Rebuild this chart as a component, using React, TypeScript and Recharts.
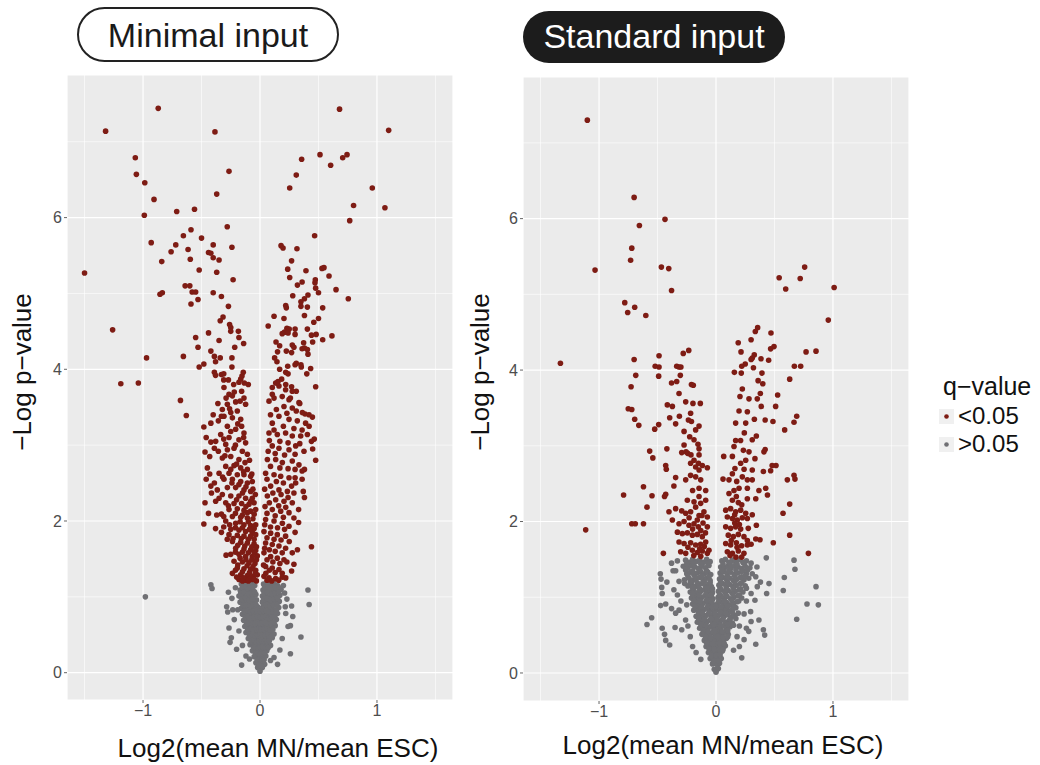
import {
  ScatterChart,
  Scatter,
  XAxis,
  YAxis,
  CartesianGrid,
  ReferenceLine,
} from "recharts";

type Pt = [number, number];

const FONT = '"Liberation Sans", Arial, Helvetica, sans-serif';
const RED = "#7e1c14";
const GRAY = "#707074";

const xTicks = [-1, 0, 1];
const yTicks = [0, 2, 4, 6];
const xMinor = [-1.5, -0.5, 0.5, 1.5];
const yMinor = [1, 3, 5, 7];

// ---- Minimal input ----
const minimalRedTop: Pt[] = [
  [-0.87, 7.44], [-1.32, 7.14], [-0.385, 7.13], [0.68, 7.43], [1.1, 7.15],
  [-1.066, 6.79], [-1.057, 6.57], [-0.985, 6.46], [-0.906, 6.24], [-0.989, 6.03],
  [-0.265, 6.61], [-0.37, 6.31], [-0.712, 6.08], [-0.56, 6.11],
  [0.356, 6.77], [0.31, 6.56], [0.254, 6.39], [0.513, 6.83], [0.604, 6.69],
  [0.707, 6.79], [0.744, 6.83], [0.96, 6.39], [0.8, 6.16], [1.068, 6.13], [0.767, 5.96],
  [-1.5, 5.27], [-0.93, 5.67], [-0.84, 5.42], [-0.76, 5.55], [-0.72, 5.64],
  [-0.655, 5.76], [-0.59, 5.84], [-0.615, 5.58], [-0.596, 5.45], [-0.5, 5.73],
  [-0.4, 5.64], [-0.44, 5.54], [-0.42, 5.53], [-0.4, 5.47], [-0.35, 5.44],
  [-0.52, 5.31], [-0.37, 5.28], [-0.28, 5.88], [-0.24, 5.61], [-0.23, 5.18],
  [-0.855, 4.99], [-0.835, 5.01], [-0.64, 5.1], [-0.6, 5.1], [-0.58, 5.02],
  [-0.55, 5.02], [-0.53, 4.92], [-0.59, 4.86], [-0.4, 5.01], [-0.33, 4.96],
  [-0.27, 4.83], [-0.316, 4.69], [-0.34, 4.64], [-0.26, 4.59], [-0.25, 4.55],
  [-0.25, 4.5], [-0.185, 4.5], [-0.18, 4.42], [-0.14, 4.34], [-0.216, 4.29],
  [-0.35, 4.38], [-0.44, 4.48], [-0.55, 4.42], [-0.53, 4.29], [-0.42, 4.24],
  [-0.39, 4.17], [-0.34, 4.15], [-0.38, 4.1], [-0.24, 4.15], [-0.24, 4.03],
  [-0.48, 4.07], [-0.52, 4.03], [-0.655, 4.17], [-1.26, 4.52], [-0.97, 4.15],
  [-1.19, 3.81], [-1.04, 3.82],
  [-0.39, 3.96], [-0.38, 3.92], [-0.33, 3.93], [-0.31, 3.94], [-0.31, 3.86],
  [-0.27, 3.86], [-0.225, 3.8], [-0.165, 3.87], [-0.143, 3.96], [-0.154, 3.91], [-0.1, 3.8],
  [0.467, 5.76], [0.18, 5.63], [0.197, 5.6], [0.316, 5.59], [0.27, 5.43],
  [0.237, 5.32], [0.393, 5.3], [0.254, 5.21], [0.53, 5.33], [0.547, 5.34],
  [0.59, 5.23], [0.473, 5.18], [0.47, 5.14], [0.476, 5.07], [0.36, 5.15],
  [0.32, 5.11], [0.5, 5.01], [0.65, 5.05], [0.755, 4.93], [0.41, 4.98],
  [0.38, 4.93], [0.35, 4.89], [0.28, 4.97], [0.22, 4.84], [0.225, 4.81],
  [0.35, 4.83], [0.405, 4.82], [0.536, 4.81], [0.38, 4.71], [0.12, 4.7],
  [0.205, 4.67], [0.5, 4.67], [0.46, 4.62], [0.07, 4.57], [0.23, 4.54],
  [0.25, 4.53], [0.3, 4.53], [0.21, 4.49], [0.19, 4.47], [0.24, 4.48],
  [0.405, 4.53], [0.3, 4.46], [0.44, 4.45], [0.48, 4.46], [0.615, 4.44],
  [0.536, 4.39], [0.137, 4.36], [0.168, 4.31], [0.276, 4.32], [0.29, 4.29],
  [0.373, 4.35], [0.38, 4.28], [0.45, 4.36], [0.15, 4.23], [0.225, 4.24],
  [0.27, 4.22], [0.405, 4.26], [0.41, 4.2], [0.36, 4.27], [0.125, 4.15],
  [0.145, 4.1], [0.237, 4.04], [0.3, 4.06], [0.31, 4.08], [0.353, 4.03],
  [0.35, 4.06], [0.433, 4.01], [0.4, 3.94], [0.476, 3.77], [0.168, 4.0],
  [0.22, 3.96], [0.24, 3.94], [0.105, 3.76], [0.134, 3.82], [0.154, 3.84],
  [0.185, 3.87], [0.22, 3.8], [0.27, 3.77],
];

const minimalRedNeg: Pt[] = [
  [-0.68, 3.59], [-0.63, 3.39], [-0.48, 3.24], [-0.47, 2.91], [-0.46, 2.55],
  [-0.47, 2.24], [-0.48, 1.96], [-0.38, 1.9], [-0.31, 1.92], [-0.33, 2.09],
  [-0.415, 2.37], [-0.42, 3.04],
  [-0.308, 3.76], [-0.265, 3.67], [-0.236, 3.65], [-0.18, 3.83], [-0.157, 3.71],
  [-0.137, 3.62], [-0.123, 3.54], [-0.279, 3.54], [-0.322, 3.47], [-0.25, 3.43],
  [-0.194, 3.45], [-0.134, 3.82], [-0.208, 3.57],
  [-0.42, 3.29], [-0.356, 3.32], [-0.308, 3.38], [-0.236, 3.36], [-0.165, 3.34],
  [-0.157, 3.25], [-0.137, 3.16], [-0.208, 3.21], [-0.279, 3.25], [-0.336, 3.14],
  [-0.265, 3.1], [-0.18, 3.07], [-0.123, 3.03], [-0.379, 3.05], [-0.293, 3.01],
  [-0.356, 2.92], [-0.279, 2.94], [-0.222, 2.96], [-0.151, 2.92], [-0.108, 2.88],
  [-0.322, 2.83], [-0.25, 2.85], [-0.18, 2.81], [-0.128, 2.77], [-0.293, 2.72],
  [-0.222, 2.73], [-0.165, 2.7], [-0.108, 2.68], [-0.35, 2.63], [-0.265, 2.63],
  [-0.194, 2.61], [-0.137, 2.61], [-0.08, 2.59], [-0.43, 2.85], [-0.45, 2.7],
  [-0.308, 2.55], [-0.236, 2.55], [-0.165, 2.52], [-0.108, 2.5], [-0.066, 2.52],
  [-0.279, 2.44], [-0.208, 2.44], [-0.137, 2.41], [-0.08, 2.39], [-0.322, 2.35],
  [-0.25, 2.33], [-0.18, 2.33], [-0.123, 2.3], [-0.066, 2.3], [-0.379, 2.26],
  [-0.293, 2.24], [-0.222, 2.23], [-0.157, 2.23], [-0.094, 2.22], [-0.051, 2.24],
  [-0.42, 2.46], [-0.365, 2.41],
  [-0.265, 2.15], [-0.194, 2.16], [-0.137, 2.14], [-0.08, 2.13], [-0.037, 2.15],
  [-0.236, 2.06], [-0.165, 2.05], [-0.108, 2.04], [-0.06, 2.03], [-0.293, 2.0],
  [-0.208, 1.97], [-0.137, 1.95], [-0.08, 1.94], [-0.037, 1.95], [-0.25, 1.89],
  [-0.18, 1.88], [-0.123, 1.86], [-0.066, 1.85], [-0.265, 1.82], [-0.194, 1.81],
  [-0.137, 1.8], [-0.08, 1.8], [-0.037, 1.82], [-0.108, 2.11],
  [-0.236, 1.73], [-0.165, 1.72], [-0.108, 1.71], [-0.051, 1.7], [-0.208, 1.64],
  [-0.137, 1.63], [-0.08, 1.62], [-0.037, 1.61], [-0.25, 1.56], [-0.18, 1.56],
  [-0.123, 1.53], [-0.066, 1.53], [-0.023, 1.54], [-0.222, 1.47], [-0.151, 1.46],
  [-0.094, 1.45], [-0.043, 1.44], [-0.194, 1.38], [-0.137, 1.37], [-0.08, 1.36],
  [-0.037, 1.35], [-0.236, 1.31], [-0.165, 1.29], [-0.108, 1.28], [-0.06, 1.27],
  [-0.023, 1.29], [-0.18, 1.23], [-0.123, 1.22], [-0.071, 1.23], [-0.031, 1.21],
  [-0.29, 3.62], [-0.22, 3.7], [-0.17, 3.58], [-0.26, 3.48], [-0.33, 3.38],
  [-0.19, 3.28], [-0.25, 3.18], [-0.31, 3.08], [-0.14, 3.1], [-0.21, 3.0],
  [-0.39, 2.96], [-0.3, 2.86], [-0.2, 2.75], [-0.09, 2.8], [-0.25, 2.68],
  [-0.14, 2.65], [-0.32, 2.58], [-0.07, 2.62], [-0.18, 2.48], [-0.24, 2.5],
  [-0.12, 2.45], [-0.06, 2.42], [-0.35, 2.3], [-0.2, 2.28], [-0.15, 2.37],
  [-0.04, 2.35], [-0.27, 2.2], [-0.12, 2.19], [-0.08, 2.26], [-0.21, 2.1],
  [-0.15, 2.08], [-0.05, 2.09], [-0.31, 2.06], [-0.1, 1.99], [-0.17, 1.99],
  [-0.26, 1.95], [-0.05, 1.9], [-0.21, 1.91], [-0.15, 1.91], [-0.09, 1.89],
  [-0.23, 1.77], [-0.16, 1.77], [-0.1, 1.76], [-0.05, 1.76], [-0.19, 1.68],
  [-0.13, 1.67], [-0.07, 1.66], [-0.03, 1.66], [-0.21, 1.59], [-0.15, 1.59],
  [-0.1, 1.58], [-0.05, 1.58], [-0.17, 1.51], [-0.12, 1.49], [-0.07, 1.49],
  [-0.03, 1.49], [-0.19, 1.42], [-0.11, 1.41], [-0.06, 1.4], [-0.21, 1.35],
  [-0.15, 1.33], [-0.09, 1.32], [-0.04, 1.31], [-0.2, 1.26], [-0.14, 1.25],
  [-0.08, 1.25], [-0.05, 1.23], [-0.15, 1.21], [-0.1, 1.21],
  [-0.36, 3.55], [-0.4, 3.4], [-0.46, 3.1], [-0.43, 2.62], [-0.39, 2.5],
  [-0.44, 2.1], [-0.37, 2.08], [-0.33, 1.85], [-0.29, 1.55], [-0.28, 1.76],
];

const minimalRedPos: Pt[] = [
  [0.464, 3.08], [0.476, 2.8], [0.44, 1.66], [0.33, 1.98], [0.38, 2.31],
  [0.29, 1.43], [0.27, 1.34], [0.31, 3.71], [0.34, 3.55], [0.385, 3.41],
  [0.448, 3.37], [0.38, 2.68], [0.36, 2.66], [0.3, 2.57], [0.37, 2.39],
  [0.077, 3.58], [0.105, 3.67], [0.162, 3.78], [0.219, 3.73], [0.276, 3.71],
  [0.333, 3.56], [0.248, 3.6], [0.148, 3.82], [0.205, 3.51], [0.276, 3.49],
  [0.362, 3.43], [0.419, 3.4], [0.162, 3.38], [0.248, 3.34], [0.319, 3.32],
  [0.39, 3.29], [0.105, 3.29], [0.077, 3.16], [0.148, 3.14], [0.219, 3.16],
  [0.276, 3.12], [0.348, 3.12], [0.405, 3.14], [0.105, 2.99], [0.162, 2.96],
  [0.248, 2.94], [0.305, 2.99], [0.376, 2.92], [0.063, 2.81], [0.134, 2.81],
  [0.191, 2.77], [0.276, 2.79], [0.333, 2.74], [0.048, 2.63], [0.12, 2.61],
  [0.177, 2.59], [0.248, 2.57], [0.305, 2.5], [0.091, 2.46], [0.162, 2.41],
  [0.234, 2.39], [0.29, 2.37], [0.063, 2.33], [0.134, 2.28], [0.205, 2.26],
  [0.276, 2.24], [0.043, 2.19], [0.105, 2.15], [0.177, 2.13], [0.248, 2.11],
  [0.048, 2.02], [0.12, 2.0], [0.191, 1.97], [0.248, 1.93], [0.034, 1.86],
  [0.091, 1.84], [0.148, 1.82], [0.219, 1.8], [0.048, 1.71], [0.105, 1.69],
  [0.162, 1.67], [0.219, 1.64], [0.276, 1.58], [0.034, 1.58], [0.091, 1.53],
  [0.148, 1.51], [0.205, 1.49], [0.048, 1.4], [0.105, 1.38], [0.162, 1.36],
  [0.034, 1.27], [0.077, 1.25], [0.134, 1.24], [0.191, 1.26],
  [0.12, 3.62], [0.19, 3.64], [0.26, 3.62], [0.14, 3.47], [0.23, 3.42],
  [0.31, 3.45], [0.09, 3.4], [0.2, 3.25], [0.29, 3.22], [0.12, 3.2],
  [0.36, 3.2], [0.17, 3.05], [0.24, 3.03], [0.08, 3.06], [0.34, 3.02],
  [0.44, 3.05], [0.13, 2.89], [0.21, 2.87], [0.3, 2.88], [0.07, 2.92],
  [0.17, 2.7], [0.24, 2.69], [0.09, 2.72], [0.3, 2.68], [0.14, 2.52],
  [0.2, 2.5], [0.06, 2.55], [0.27, 2.46], [0.11, 2.37], [0.18, 2.35],
  [0.04, 2.42], [0.24, 2.31], [0.08, 2.24], [0.16, 2.2], [0.22, 2.18],
  [0.06, 2.1], [0.13, 2.07], [0.2, 2.05], [0.29, 2.04], [0.04, 1.95],
  [0.09, 1.92], [0.15, 1.91], [0.21, 1.89], [0.06, 1.78], [0.12, 1.76],
  [0.18, 1.75], [0.25, 1.73], [0.04, 1.64], [0.08, 1.62], [0.13, 1.6],
  [0.19, 1.58], [0.06, 1.49], [0.11, 1.46], [0.17, 1.44], [0.23, 1.46],
  [0.03, 1.42], [0.08, 1.35], [0.13, 1.32], [0.19, 1.31], [0.05, 1.31],
  [0.1, 1.21], [0.06, 1.22], [0.16, 1.22], [0.22, 1.25],
  [0.42, 3.25], [0.45, 2.95], [0.36, 2.55], [0.33, 2.15], [0.3, 1.85], [0.32, 1.62],
];

const minimalGray: Pt[] = [
  [-0.16, 1.17], [-0.13, 1.19], [-0.1, 1.16], [-0.07, 1.18], [-0.045, 1.15],
  [0.03, 1.17], [0.06, 1.19], [0.09, 1.16], [0.12, 1.18], [0.15, 1.15],
  [-0.17, 1.09], [-0.14, 1.11], [-0.11, 1.08], [-0.08, 1.1], [-0.05, 1.07],
  [0.025, 1.09], [0.055, 1.11], [0.085, 1.08], [0.115, 1.1], [0.15, 1.07], [0.18, 1.1],
  [-0.18, 1.01], [-0.15, 1.03], [-0.12, 1.0], [-0.09, 1.02], [-0.06, 0.99], [-0.035, 1.03],
  [0.02, 1.01], [0.05, 1.03], [0.08, 1.0], [0.11, 1.02], [0.14, 0.99], [0.17, 1.02],
  [-0.17, 0.93], [-0.14, 0.95], [-0.11, 0.92], [-0.08, 0.94], [-0.05, 0.91], [-0.03, 0.96],
  [0.02, 0.93], [0.045, 0.95], [0.075, 0.92], [0.105, 0.94], [0.135, 0.91], [0.165, 0.94],
  [-0.16, 0.85], [-0.13, 0.87], [-0.1, 0.84], [-0.07, 0.86], [-0.045, 0.83], [-0.02, 0.87],
  [0.015, 0.85], [0.04, 0.87], [0.07, 0.84], [0.1, 0.86], [0.13, 0.83], [0.16, 0.86],
  [-0.15, 0.77], [-0.12, 0.79], [-0.09, 0.76], [-0.065, 0.78], [-0.04, 0.75], [-0.015, 0.79],
  [0.015, 0.77], [0.04, 0.79], [0.065, 0.76], [0.095, 0.78], [0.125, 0.75], [0.15, 0.78],
  [-0.14, 0.69], [-0.11, 0.71], [-0.085, 0.68], [-0.06, 0.7], [-0.035, 0.67], [-0.012, 0.71],
  [0.012, 0.69], [0.035, 0.71], [0.06, 0.68], [0.085, 0.7], [0.11, 0.67], [0.14, 0.7],
  [-0.13, 0.61], [-0.1, 0.63], [-0.075, 0.6], [-0.05, 0.62], [-0.028, 0.59], [-0.008, 0.63],
  [0.01, 0.61], [0.03, 0.63], [0.055, 0.6], [0.08, 0.62], [0.105, 0.59], [0.13, 0.62],
  [-0.12, 0.53], [-0.09, 0.55], [-0.065, 0.52], [-0.042, 0.54], [-0.02, 0.51], [0.0, 0.55],
  [0.02, 0.53], [0.045, 0.55], [0.07, 0.52], [0.095, 0.54], [0.12, 0.51],
  [-0.1, 0.45], [-0.075, 0.47], [-0.05, 0.44], [-0.03, 0.46], [-0.01, 0.43],
  [0.01, 0.47], [0.03, 0.45], [0.055, 0.47], [0.08, 0.44], [0.105, 0.46],
  [-0.085, 0.37], [-0.06, 0.39], [-0.038, 0.36], [-0.018, 0.38], [0.003, 0.35],
  [0.022, 0.39], [0.045, 0.37], [0.068, 0.39], [0.09, 0.36],
  [-0.065, 0.29], [-0.045, 0.31], [-0.025, 0.28], [-0.005, 0.3], [0.015, 0.27],
  [0.035, 0.31], [0.058, 0.29],
  [-0.05, 0.21], [-0.03, 0.23], [-0.01, 0.2], [0.01, 0.22], [0.03, 0.19], [0.05, 0.22],
  [-0.035, 0.13], [-0.015, 0.15], [0.005, 0.12], [0.025, 0.14], [0.04, 0.11],
  [-0.02, 0.07], [0.0, 0.05], [0.02, 0.07], [0.0, 0.02],
  // fill between rows
  [-0.15, 1.13], [-0.12, 1.14], [-0.09, 1.12], [-0.06, 1.13], [0.04, 1.13],
  [0.07, 1.14], [0.1, 1.12], [0.13, 1.13], [0.165, 1.12],
  [-0.165, 1.05], [-0.135, 1.06], [-0.1, 1.04], [-0.07, 1.05], [-0.045, 1.06],
  [0.035, 1.05], [0.065, 1.06], [0.1, 1.04], [0.13, 1.05], [0.16, 1.06],
  [-0.155, 0.97], [-0.125, 0.98], [-0.095, 0.96], [-0.065, 0.97], [0.03, 0.97],
  [0.06, 0.98], [0.09, 0.96], [0.12, 0.97], [0.15, 0.98],
  [-0.145, 0.89], [-0.115, 0.9], [-0.085, 0.88], [-0.06, 0.89], [-0.035, 0.9],
  [0.03, 0.89], [0.055, 0.9], [0.085, 0.88], [0.115, 0.89], [0.145, 0.9],
  [-0.135, 0.81], [-0.105, 0.82], [-0.08, 0.8], [-0.055, 0.81], [-0.03, 0.82],
  [0.0, 0.81], [0.03, 0.81], [0.055, 0.82], [0.08, 0.8], [0.11, 0.81], [0.14, 0.82],
  [-0.125, 0.73], [-0.1, 0.74], [-0.075, 0.72], [-0.05, 0.73], [-0.025, 0.74],
  [0.0, 0.73], [0.025, 0.73], [0.05, 0.74], [0.075, 0.72], [0.1, 0.73], [0.125, 0.74],
  [-0.115, 0.65], [-0.09, 0.66], [-0.065, 0.64], [-0.04, 0.65], [-0.018, 0.66],
  [0.0, 0.65], [0.02, 0.65], [0.045, 0.66], [0.07, 0.64], [0.095, 0.65], [0.12, 0.66],
  [-0.105, 0.57], [-0.08, 0.58], [-0.055, 0.56], [-0.03, 0.57], [-0.01, 0.58],
  [0.01, 0.57], [0.035, 0.57], [0.06, 0.58], [0.085, 0.56], [0.11, 0.57],
  [-0.09, 0.49], [-0.065, 0.5], [-0.04, 0.48], [-0.02, 0.49], [0.0, 0.5],
  [0.02, 0.49], [0.045, 0.49], [0.07, 0.5], [0.095, 0.48],
  [-0.075, 0.41], [-0.05, 0.42], [-0.028, 0.4], [-0.008, 0.41], [0.012, 0.42],
  [0.035, 0.41], [0.058, 0.41], [0.08, 0.42],
  [-0.055, 0.33], [-0.035, 0.34], [-0.015, 0.32], [0.005, 0.33], [0.025, 0.34],
  [0.048, 0.33], [0.07, 0.33],
  [-0.04, 0.25], [-0.02, 0.26], [0.0, 0.24], [0.02, 0.25], [0.04, 0.26],
  [-0.025, 0.17], [-0.005, 0.18], [0.015, 0.17], [0.035, 0.17], [-0.01, 0.1], [0.01, 0.09],
  // scattered
  [-0.98, 1.0], [-0.42, 1.16], [-0.41, 1.11], [0.41, 1.09], [0.42, 0.9],
  [0.35, 0.47], [0.26, 0.25], [-0.157, 0.1], [0.15, 0.11], [0.216, 0.87],
  [0.27, 0.88], [0.24, 0.61], [0.26, 0.62], [0.28, 0.74], [-0.285, 0.87],
  [-0.276, 0.8], [-0.265, 0.59], [-0.245, 0.46], [-0.256, 0.4], [-0.2, 0.31],
  [-0.233, 0.83], [-0.19, 0.83], [-0.27, 1.06], [0.21, 1.05], [0.23, 0.97],
  [-0.22, 0.7], [-0.18, 0.55], [-0.15, 0.36], [-0.12, 0.22], [0.19, 0.45],
  [0.17, 0.3], [0.12, 0.2], [0.2, 1.15], [-0.21, 1.12], [-0.24, 0.98],
  [0.22, 0.78], [0.09, 0.16], [-0.09, 0.18],
];

// ---- Standard input ----
const standardRedTop: Pt[] = [
  [-1.1, 7.3], [-0.7, 6.28], [-0.436, 5.99], [-0.655, 5.91], [-0.72, 5.61],
  [-0.73, 5.45], [-1.034, 5.32], [-0.467, 5.36], [-0.404, 5.34], [-0.38, 5.05],
  [-0.78, 4.89], [-0.755, 4.76], [-0.695, 4.83], [-0.6, 4.72], [-1.33, 4.09],
  [-0.7, 4.14], [-0.686, 3.93], [-0.726, 3.78], [-0.487, 4.19], [-0.52, 4.05],
  [-0.487, 4.04], [-0.49, 3.92], [-0.38, 3.83], [-0.336, 3.85], [-0.336, 4.05],
  [-0.316, 4.04], [-0.3, 4.04], [-0.305, 3.93], [-0.28, 4.22], [-0.233, 4.26],
  [-0.21, 3.81], [-0.194, 3.8],
  [0.54, 5.22], [0.596, 5.07], [0.72, 5.21], [0.758, 5.36], [1.01, 5.09],
  [0.96, 4.66], [0.19, 4.36], [0.356, 4.56], [0.336, 4.51], [0.3, 4.4],
  [0.47, 4.49], [0.496, 4.31], [0.467, 4.28], [0.214, 4.24], [0.327, 4.2],
  [0.31, 4.16], [0.3, 4.14], [0.385, 4.15], [0.45, 4.13], [0.25, 4.08],
  [0.22, 4.05], [0.32, 4.03], [0.157, 3.97], [0.216, 3.96], [0.393, 3.96],
  [0.36, 3.86], [0.4, 3.82], [0.225, 3.75], [0.63, 3.88], [0.67, 4.05],
  [0.724, 4.05], [0.77, 4.24], [0.855, 4.25],
];

const standardRedNeg: Pt[] = [
  [-1.114, 1.89], [-0.79, 2.35], [-0.75, 3.49], [-0.72, 3.48], [-0.695, 3.35],
  [-0.66, 3.27], [-0.72, 1.97], [-0.69, 1.97], [-0.62, 1.97], [-0.62, 2.46],
  [-0.547, 2.34], [-0.59, 2.19], [-0.567, 2.93], [-0.54, 2.84], [-0.524, 3.22],
  [-0.49, 3.28], [-0.45, 1.58], [-0.44, 2.33], [-0.43, 2.36], [-0.43, 2.74],
  [-0.425, 2.69], [-0.42, 2.96], [-0.416, 3.54], [-0.373, 3.52], [-0.396, 3.37],
  [-0.313, 3.39], [-0.345, 3.29], [-0.293, 2.91], [-0.256, 2.92], [-0.242, 2.9],
  [-0.214, 2.88], [-0.345, 2.58], [-0.36, 2.47], [-0.273, 3.19], [-0.225, 3.12],
  [-0.236, 3.34], [-0.21, 3.32], [-0.197, 3.56], [-0.134, 3.56], [-0.145, 3.26],
  [-0.188, 3.08], [-0.154, 3.02], [-0.145, 2.96], [-0.074, 2.71], [-0.217, 2.77],
  [-0.15, 2.77], [-0.145, 2.68], [-0.131, 2.55], [-0.2, 2.41], [-0.145, 2.44],
  [-0.088, 2.41],
  [-0.402, 2.13], [-0.345, 2.17], [-0.293, 2.14], [-0.259, 2.11], [-0.217, 2.13],
  [-0.174, 2.19], [-0.145, 2.08], [-0.103, 2.13], [-0.074, 2.06], [-0.373, 2.02],
  [-0.316, 1.97], [-0.273, 2.0], [-0.231, 1.95], [-0.188, 1.97], [-0.151, 1.93],
  [-0.111, 1.98], [-0.074, 1.93], [-0.33, 1.86], [-0.288, 1.84], [-0.245, 1.85],
  [-0.202, 1.82], [-0.16, 1.83], [-0.117, 1.8], [-0.316, 1.73], [-0.273, 1.71],
  [-0.217, 1.72], [-0.174, 1.69], [-0.131, 1.7], [-0.088, 1.73], [-0.302, 1.6],
  [-0.259, 1.58], [-0.202, 1.62], [-0.16, 1.59], [-0.117, 1.61], [-0.074, 1.58],
  [-0.145, 2.33], [-0.188, 2.26], [-0.245, 2.28], [-0.131, 2.24], [-0.088, 2.28],
  [-0.259, 2.55], [-0.174, 2.59], [-0.217, 2.61], [-0.174, 2.72], [-0.117, 2.74],
  [-0.188, 2.81], [-0.145, 2.88], [-0.273, 3.01], [-0.174, 3.21], [-0.217, 3.43],
  [-0.259, 3.58], [-0.316, 3.69],
  [-0.2, 1.9], [-0.13, 1.88], [-0.09, 1.85], [-0.24, 1.66], [-0.14, 1.64],
  [-0.1, 1.67], [-0.06, 1.62], [-0.19, 1.55], [-0.13, 1.54], [-0.23, 2.05],
  [-0.16, 2.02], [-0.12, 2.08],
];

const standardRedPos: Pt[] = [
  [0.205, 3.65], [0.282, 3.62], [0.353, 3.62], [0.379, 3.69], [0.527, 3.67],
  [0.51, 3.52], [0.387, 3.52], [0.197, 3.46], [0.268, 3.45], [0.168, 3.3],
  [0.254, 3.3], [0.328, 3.35], [0.42, 3.34], [0.487, 3.32], [0.587, 3.21],
  [0.667, 3.31], [0.69, 3.39], [0.242, 3.17], [0.21, 3.07], [0.31, 3.08],
  [0.345, 3.13], [0.154, 2.99], [0.234, 2.94], [0.282, 2.92], [0.42, 2.95],
  [0.41, 2.92], [0.066, 2.86], [0.14, 2.86], [0.333, 2.83], [0.48, 2.74],
  [0.513, 2.74], [0.467, 2.67], [0.405, 2.66], [0.24, 2.69], [0.31, 2.68],
  [0.162, 2.7], [0.61, 2.55], [0.667, 2.61], [0.675, 2.56], [0.06, 2.56],
  [0.177, 2.53], [0.197, 2.44], [0.268, 2.44], [0.367, 2.41], [0.425, 2.44],
  [0.44, 2.35], [0.34, 2.3], [0.268, 2.3], [0.63, 2.23], [0.573, 2.11],
  [0.31, 2.09], [0.268, 2.04], [0.276, 1.91], [0.345, 1.95], [0.63, 1.82],
  [0.49, 1.72], [0.79, 1.58], [0.34, 1.77], [0.376, 1.76], [0.268, 1.75], [0.3, 1.7],
  [0.083, 2.15], [0.125, 2.17], [0.168, 2.13], [0.211, 2.15], [0.254, 2.11],
  [0.097, 2.06], [0.14, 2.04], [0.182, 2.02], [0.225, 2.05], [0.083, 1.93],
  [0.125, 1.91], [0.168, 1.93], [0.211, 1.9], [0.105, 1.82], [0.148, 1.8],
  [0.191, 1.83], [0.239, 1.8], [0.083, 1.71], [0.125, 1.69], [0.174, 1.72],
  [0.219, 1.68], [0.268, 1.69], [0.097, 1.6], [0.14, 1.58], [0.191, 1.61],
  [0.239, 1.58], [0.111, 2.37], [0.154, 2.41], [0.174, 2.33], [0.14, 2.28],
  [0.191, 2.25], [0.111, 2.55], [0.14, 2.63], [0.225, 2.59], [0.268, 2.55],
  [0.31, 2.55], [0.211, 2.77], [0.254, 2.81], [0.168, 3.07],
  [0.16, 1.98], [0.2, 1.96], [0.13, 1.75], [0.18, 1.66], [0.12, 1.55],
  [0.17, 1.53], [0.22, 1.53], [0.16, 2.09], [0.22, 2.22],
];

const standardGray: Pt[] = [
  [-0.26, 1.49], [-0.23, 1.46], [-0.2, 1.5], [-0.17, 1.47], [-0.14, 1.49], [-0.11, 1.46],
  [-0.08, 1.5], [-0.05, 1.47], [0.05, 1.48], [0.08, 1.5], [0.11, 1.46], [0.14, 1.49],
  [0.17, 1.47], [0.2, 1.5], [0.23, 1.46], [0.26, 1.48],
  [-0.28, 1.41], [-0.24, 1.39], [-0.21, 1.42], [-0.18, 1.4], [-0.15, 1.38], [-0.12, 1.41],
  [-0.09, 1.39], [-0.06, 1.42], [0.04, 1.4], [0.07, 1.38], [0.1, 1.41], [0.13, 1.39],
  [0.16, 1.42], [0.19, 1.4], [0.22, 1.38], [0.25, 1.41], [0.29, 1.39],
  [-0.25, 1.31], [-0.22, 1.33], [-0.19, 1.3], [-0.16, 1.32], [-0.13, 1.34], [-0.1, 1.31],
  [-0.07, 1.33], [-0.045, 1.3], [0.035, 1.32], [0.065, 1.34], [0.095, 1.31], [0.125, 1.33],
  [0.155, 1.3], [0.185, 1.32], [0.22, 1.34], [0.26, 1.31],
  [-0.27, 1.23], [-0.23, 1.25], [-0.2, 1.22], [-0.17, 1.24], [-0.14, 1.26], [-0.11, 1.23],
  [-0.08, 1.25], [-0.05, 1.22], [0.03, 1.24], [0.06, 1.26], [0.09, 1.23], [0.12, 1.25],
  [0.15, 1.22], [0.18, 1.24], [0.21, 1.26], [0.24, 1.23], [0.28, 1.25],
  [-0.24, 1.15], [-0.21, 1.17], [-0.18, 1.14], [-0.15, 1.16], [-0.12, 1.18], [-0.09, 1.15],
  [-0.06, 1.17], [-0.04, 1.14], [0.025, 1.16], [0.055, 1.18], [0.085, 1.15], [0.115, 1.17],
  [0.145, 1.14], [0.175, 1.16], [0.21, 1.18], [0.25, 1.15],
  [-0.22, 1.07], [-0.19, 1.09], [-0.16, 1.06], [-0.13, 1.08], [-0.1, 1.1], [-0.075, 1.07],
  [-0.05, 1.09], [-0.03, 1.06], [0.02, 1.08], [0.045, 1.1], [0.075, 1.07], [0.105, 1.09],
  [0.135, 1.06], [0.165, 1.08], [0.2, 1.1], [0.23, 1.07],
  [-0.21, 0.99], [-0.18, 1.01], [-0.15, 0.98], [-0.12, 1.0], [-0.095, 1.02], [-0.07, 0.99],
  [-0.045, 1.01], [-0.025, 0.98], [0.018, 1.0], [0.04, 1.02], [0.065, 0.99], [0.095, 1.01],
  [0.125, 0.98], [0.155, 1.0], [0.19, 1.02], [0.22, 0.99],
  [-0.2, 0.91], [-0.17, 0.93], [-0.14, 0.9], [-0.11, 0.92], [-0.085, 0.94], [-0.06, 0.91],
  [-0.04, 0.93], [-0.02, 0.9], [0.015, 0.92], [0.035, 0.94], [0.06, 0.91], [0.09, 0.93],
  [0.12, 0.9], [0.15, 0.92], [0.18, 0.94],
  [-0.19, 0.83], [-0.16, 0.85], [-0.13, 0.82], [-0.1, 0.84], [-0.075, 0.86], [-0.052, 0.83],
  [-0.032, 0.85], [-0.015, 0.82], [0.012, 0.84], [0.03, 0.86], [0.055, 0.83], [0.08, 0.85],
  [0.11, 0.82], [0.14, 0.84], [0.17, 0.86],
  [-0.17, 0.75], [-0.14, 0.77], [-0.11, 0.74], [-0.085, 0.76], [-0.062, 0.78], [-0.04, 0.75],
  [-0.02, 0.77], [0.0, 0.74], [0.02, 0.76], [0.045, 0.78], [0.07, 0.75], [0.1, 0.77],
  [0.13, 0.74], [0.16, 0.76],
  [-0.16, 0.67], [-0.13, 0.69], [-0.1, 0.66], [-0.075, 0.68], [-0.052, 0.7], [-0.03, 0.67],
  [-0.01, 0.69], [0.01, 0.66], [0.03, 0.68], [0.055, 0.7], [0.08, 0.67], [0.11, 0.69], [0.14, 0.66],
  [-0.14, 0.59], [-0.11, 0.61], [-0.085, 0.58], [-0.06, 0.6], [-0.04, 0.62], [-0.02, 0.59],
  [0.0, 0.61], [0.02, 0.58], [0.04, 0.6], [0.065, 0.62], [0.09, 0.59], [0.12, 0.61],
  [-0.12, 0.51], [-0.095, 0.53], [-0.07, 0.5], [-0.048, 0.52], [-0.028, 0.54], [-0.008, 0.51],
  [0.012, 0.53], [0.032, 0.5], [0.055, 0.52], [0.08, 0.54], [0.105, 0.51],
  [-0.1, 0.43], [-0.077, 0.45], [-0.055, 0.42], [-0.035, 0.44], [-0.015, 0.46], [0.005, 0.43],
  [0.025, 0.45], [0.045, 0.42], [0.068, 0.44], [0.09, 0.46],
  [-0.085, 0.35], [-0.062, 0.37], [-0.04, 0.34], [-0.02, 0.36], [0.0, 0.38], [0.02, 0.35],
  [0.04, 0.37], [0.062, 0.34], [0.08, 0.36],
  [-0.065, 0.27], [-0.045, 0.29], [-0.025, 0.26], [-0.005, 0.28], [0.015, 0.3], [0.035, 0.27],
  [0.055, 0.29],
  [-0.05, 0.19], [-0.03, 0.21], [-0.01, 0.18], [0.01, 0.2], [0.03, 0.22], [0.045, 0.19],
  [-0.03, 0.12], [-0.01, 0.13], [0.01, 0.11], [0.03, 0.13],
  [-0.015, 0.05], [0.005, 0.04], [0.02, 0.06], [0.0, 0.01],
  // fill between rows
  [-0.25, 1.44], [-0.19, 1.45], [-0.13, 1.44], [-0.07, 1.45], [0.06, 1.44],
  [0.12, 1.45], [0.18, 1.44], [0.24, 1.45],
  [-0.26, 1.36], [-0.2, 1.35], [-0.14, 1.36], [-0.08, 1.35], [0.05, 1.36],
  [0.11, 1.35], [0.17, 1.36], [0.23, 1.35], [0.27, 1.36],
  [-0.24, 1.28], [-0.18, 1.27], [-0.12, 1.28], [-0.06, 1.27], [0.045, 1.28],
  [0.1, 1.27], [0.16, 1.28], [0.22, 1.27], [0.25, 1.28],
  [-0.22, 1.2], [-0.16, 1.19], [-0.1, 1.2], [-0.05, 1.19], [0.04, 1.2],
  [0.1, 1.19], [0.16, 1.2], [0.22, 1.19],
  [-0.2, 1.12], [-0.14, 1.11], [-0.08, 1.12], [-0.03, 1.11], [0.035, 1.12],
  [0.09, 1.11], [0.15, 1.12], [0.21, 1.11], [0.26, 1.12],
  [-0.2, 1.04], [-0.145, 1.03], [-0.085, 1.04], [-0.04, 1.03], [0.03, 1.04],
  [0.085, 1.03], [0.145, 1.04], [0.2, 1.03],
  [-0.19, 0.96], [-0.135, 0.95], [-0.08, 0.96], [-0.035, 0.95], [0.025, 0.96],
  [0.075, 0.95], [0.135, 0.96], [0.195, 0.95],
  [-0.18, 0.88], [-0.125, 0.87], [-0.07, 0.88], [-0.03, 0.87], [0.0, 0.88],
  [0.045, 0.87], [0.1, 0.88], [0.16, 0.87],
  [-0.15, 0.8], [-0.115, 0.79], [-0.06, 0.8], [-0.01, 0.79], [0.035, 0.8],
  [0.085, 0.79], [0.14, 0.8], [0.19, 0.79],
  [-0.15, 0.72], [-0.1, 0.71], [-0.04, 0.72], [0.01, 0.71], [0.06, 0.72],
  [0.12, 0.71], [0.17, 0.72],
  [-0.13, 0.64], [-0.085, 0.63], [-0.02, 0.64], [0.04, 0.63], [0.1, 0.64], [0.15, 0.63],
  [-0.11, 0.56], [-0.07, 0.55], [-0.01, 0.56], [0.05, 0.55], [0.1, 0.56],
  [-0.09, 0.48], [-0.045, 0.47], [0.015, 0.48], [0.06, 0.47], [0.1, 0.48],
  [-0.08, 0.4], [-0.03, 0.39], [0.03, 0.4], [0.07, 0.39],
  [-0.06, 0.32], [-0.015, 0.31], [0.03, 0.32], [0.06, 0.31],
  [-0.04, 0.24], [0.0, 0.23], [0.035, 0.24], [-0.02, 0.16], [0.02, 0.16],
  // scattered
  [0.855, 1.14], [0.778, 0.91], [0.875, 0.9], [0.69, 0.71], [0.675, 1.37],
  [0.667, 1.49], [0.584, 1.26], [0.575, 1.09], [0.43, 1.52], [0.453, 1.18],
  [0.433, 1.05], [0.416, 0.5], [0.405, 0.57], [0.34, 0.38], [-0.59, 0.64],
  [-0.55, 0.73], [-0.46, 0.59], [-0.396, 0.37], [-0.44, 0.51], [-0.43, 0.43],
  [-0.476, 1.31], [-0.47, 1.24], [-0.367, 1.35], [-0.345, 1.35], [-0.464, 1.13],
  [-0.46, 1.05], [-0.473, 0.89], [-0.43, 0.91], [-0.316, 1.21], [-0.268, 1.18],
  [-0.33, 1.03], [-0.316, 0.83], [-0.26, 0.7], [-0.345, 0.79], [-0.293, 0.57],
  [0.31, 1.31], [0.34, 1.27], [0.353, 1.14], [0.333, 0.96], [0.296, 0.81],
  [0.367, 0.7], [0.26, 0.59], [0.24, 0.44], [0.2, 0.35],
  [-0.38, 1.45], [-0.33, 1.48], [-0.42, 1.2], [-0.36, 1.1], [-0.3, 0.95],
  [-0.25, 0.9], [-0.24, 0.62], [-0.22, 0.48], [-0.2, 0.35], [-0.17, 0.27],
  [-0.35, 0.6], [-0.38, 0.85], [0.3, 1.45], [0.35, 1.4], [0.38, 1.2],
  [0.3, 1.05], [0.26, 0.95], [0.24, 0.78], [0.2, 0.62], [0.18, 0.48],
  [0.15, 0.3], [0.28, 0.55], [0.3, 0.68], [0.22, 0.2], [-0.13, 0.18],
];

const toRows = (pts: Pt[]) => pts.map(([x, y]) => ({ x, y }));

const fmt = (v: number) => (v < 0 ? `\u2212${Math.abs(v)}` : `${v}`);

const dot = (color: string) => (p: any) =>
  <circle cx={p.cx} cy={p.cy} r={2.8} fill={color} />;

interface VolcanoProps {
  left: number;
  top: number;
  bottom: number;
  yDomain: [number, number];
  red: Pt[];
  gray: Pt[];
}

function Volcano({ left, top, bottom, yDomain, red, gray }: VolcanoProps) {
  return (
    <div style={{ position: "absolute", left, top: 0 }}>
      <ScatterChart
        width={470}
        height={765}
        margin={{ top, right: 17, bottom, left: 0 }}
      >
        <CartesianGrid fill="#ebebeb" fillOpacity={1} stroke="#ffffff" strokeWidth={1.2} />
        {xMinor.map((v) => (
          <ReferenceLine key={`x${v}`} x={v} stroke="#ffffff" strokeWidth={0.6} />
        ))}
        {yMinor.map((v) => (
          <ReferenceLine key={`y${v}`} y={v} stroke="#ffffff" strokeWidth={0.6} />
        ))}
        <XAxis
          type="number"
          dataKey="x"
          domain={[-1.65, 1.65]}
          ticks={xTicks}
          interval={0}
          allowDataOverflow
          axisLine={false}
          tickLine={{ stroke: "#666" }}
          tickSize={3}
          tickMargin={2}
          height={30}
          tick={{ fill: "#4d4d4d", fontSize: 16, fontFamily: FONT }}
          tickFormatter={fmt}
        />
        <YAxis
          type="number"
          dataKey="y"
          domain={yDomain}
          ticks={yTicks}
          interval={0}
          allowDataOverflow
          axisLine={false}
          tickLine={{ stroke: "#666" }}
          tickSize={3}
          tickMargin={2}
          width={67}
          tick={{ fill: "#4d4d4d", fontSize: 16, fontFamily: FONT }}
        />
        <Scatter data={toRows(gray)} fill={GRAY} shape={dot(GRAY)} isAnimationActive={false} />
        <Scatter data={toRows(red)} fill={RED} shape={dot(RED)} isAnimationActive={false} />
      </ScatterChart>
    </div>
  );
}

export default function App() {
  return (
    <div
      style={{
        position: "absolute",
        left: 0,
        top: 0,
        width: 1040,
        height: 765,
        background: "#fff",
        fontFamily: FONT,
      }}
    >
      <Volcano
        left={0}
        top={75}
        bottom={35}
        yDomain={[-0.36, 7.88]}
        red={[...minimalRedTop, ...minimalRedNeg, ...minimalRedPos]}
        gray={minimalGray}
      />
      <Volcano
        left={456}
        top={77}
        bottom={34}
        yDomain={[-0.37, 7.87]}
        red={[...standardRedTop, ...standardRedNeg, ...standardRedPos]}
        gray={standardGray}
      />

      {/* titles, axis titles, legend */}
      <svg
        width={1040}
        height={765}
        style={{ position: "absolute", left: 0, top: 0, pointerEvents: "none" }}
        fontFamily={FONT}
      >
        <rect x={78} y={8} width={260} height={53} rx={26.5} fill="#fff" stroke="#222" strokeWidth={2} />
        <text x={208} y={47} textAnchor="middle" fontSize={34} fill="#1a1a1a">
          Minimal input
        </text>
        <rect x={523} y={11} width={262} height={52} rx={26} fill="#1c1c1c" />
        <text x={654} y={48} textAnchor="middle" fontSize={34} fill="#fff">
          Standard input
        </text>

        <text x={278} y={757} textAnchor="middle" fontSize={26} fill="#111">
          Log2(mean MN/mean ESC)
        </text>
        <text x={723} y={754} textAnchor="middle" fontSize={26} fill="#111">
          Log2(mean MN/mean ESC)
        </text>
        <text transform="translate(31,372) rotate(-90)" textAnchor="middle" fontSize={26} fill="#111">
          {"\u2212Log p\u2212value"}
        </text>
        <text transform="translate(489,372) rotate(-90)" textAnchor="middle" fontSize={26} fill="#111">
          {"\u2212Log p\u2212value"}
        </text>

        <text x={943} y={395} fontSize={25} fill="#111">
          {"q\u2212value"}
        </text>
        <rect x={939} y={409} width={15} height={15} fill="#f0f0f0" />
        <circle cx={946.5} cy={416.5} r={2.3} fill={RED} />
        <text x={958} y={424} fontSize={24} fill="#111">
          {"<0.05"}
        </text>
        <rect x={939} y={437} width={15} height={15} fill="#f0f0f0" />
        <circle cx={946.5} cy={444.5} r={2.3} fill={GRAY} />
        <text x={958} y={452} fontSize={24} fill="#111">
          {">0.05"}
        </text>
      </svg>
    </div>
  );
}
